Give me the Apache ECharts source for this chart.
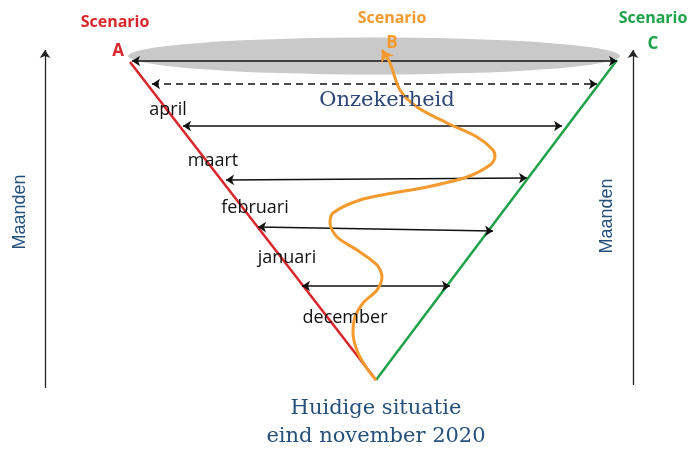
<!DOCTYPE html>
<html>
<head>
<meta charset="utf-8">
<script src="https://cdn.jsdelivr.net/npm/echarts@6/dist/echarts.min.js"></script>
<style>
  html, body { margin: 0; padding: 0; background: #fff; }
  #chart { width: 694px; height: 454px; }
</style>
</head>
<body>
<div id="chart"></div>
<script>
// x = spreiding t.o.v. huidige situatie, y = hoogte in de tijd (0 = nu)
const months = ['december', 'januari', 'februari', 'maart', 'april'];
const monthLabelX = [-31, -89, -121, -163, -208];
const monthLabelY = [62, 122, 172, 219, 270];

// dubbele pijlen per maand: [links, rechts]
const spreadArrows = [
  [[-74, 94], [74, 94]],
  [[-118, 153], [117, 149]],
  [[-150, 200], [151, 202]],
  [[-193, 254], [186, 254]]
];
const dashedArrow = [[-224, 296], [221, 296]];
const topArrow = [[-244, 319], [241, 319]];

const scenarioA = [[0, 0], [-246, 318]];
const scenarioC = [[0, 0], [241, 320]];

// kronkelend pad van scenario B
const scenarioB = [
  [0, 0], [-8, 10], [-18, 27], [-23, 47], [-21, 63], [-13, 77], [1, 90],
  [6, 103], [1, 115], [-19, 130], [-39, 143], [-46, 157], [-43, 167],
  [-16, 180], [17, 187], [51, 193], [91, 203], [114, 215], [119, 223],
  [117, 230], [101, 243], [71, 257], [41, 273], [24, 290], [14, 317], [6, 330]
];

const sideAxes = [
  [[-331, -8], [-331, 330]],
  [[257, -5], [257, 330]]
];

const chart = echarts.init(document.getElementById('chart'));

const arrowStyle = { color: '#111', width: 1.5, opacity: 1 };

const option = {
  animation: false,
  backgroundColor: '#fff',
  grid: { left: 0, right: 0, top: 0, bottom: 0 },
  xAxis: { type: 'value', min: -376, max: 318, show: false },
  yAxis: { type: 'value', min: -74, max: 380, show: false },
  series: [
    // grijze onzekerheidswolk
    {
      type: 'scatter',
      z: 1,
      silent: true,
      symbol: 'circle',
      symbolSize: [492, 37],
      itemStyle: { color: '#c9c9c9', opacity: 1 },
      data: [[-2, 324]]
    },
    // zijassen "Maanden"
    {
      type: 'lines',
      coordinateSystem: 'cartesian2d',
      z: 3,
      symbol: ['none', 'arrow'],
      symbolSize: 8,
      lineStyle: { color: '#222', width: 1.3, opacity: 1 },
      data: sideAxes.map(c => ({ coords: c }))
    },
    // scenario A en C
    {
      type: 'lines',
      coordinateSystem: 'cartesian2d',
      z: 4,
      symbol: 'none',
      lineStyle: { color: '#d8262b', width: 2.5, opacity: 1 },
      data: [{ coords: scenarioA }]
    },
    {
      type: 'lines',
      coordinateSystem: 'cartesian2d',
      z: 4,
      symbol: 'none',
      lineStyle: { color: '#1fa24a', width: 2.5, opacity: 1 },
      data: [{ coords: scenarioC }]
    },
    // maandpijlen
    {
      type: 'lines',
      coordinateSystem: 'cartesian2d',
      z: 5,
      symbol: ['arrow', 'arrow'],
      symbolSize: 8,
      lineStyle: arrowStyle,
      data: spreadArrows.concat([topArrow]).map(c => ({ coords: c }))
    },
    {
      type: 'lines',
      coordinateSystem: 'cartesian2d',
      z: 5,
      symbol: ['arrow', 'arrow'],
      symbolSize: 8,
      lineStyle: { color: '#111', width: 1.5, type: [7, 5], opacity: 1 },
      data: [{ coords: dashedArrow }]
    },
    // scenario B
    {
      type: 'line',
      z: 6,
      smooth: 0.3,
      showSymbol: true,
      lineStyle: { color: '#f39a2e', width: 3 },
      itemStyle: { color: '#f39a2e', opacity: 1 },
      data: scenarioB.map((p, i) => i === scenarioB.length - 1
        ? { value: p, symbol: 'arrow', symbolSize: 11, symbolRotate: 30 }
        : { value: p, symbol: 'none' })
    },
    // maandlabels
    {
      type: 'scatter',
      z: 7,
      symbolSize: 0,
      itemStyle: { opacity: 1 },
      label: {
        show: true,
        position: 'inside',
        formatter: p => p.name,
        color: '#111',
        fontFamily: 'Open Sans',
        fontSize: 18
      },
      data: months.map((m, i) => ({ name: m, value: [monthLabelX[i], monthLabelY[i]] }))
    },
    // overige teksten
    {
      type: 'scatter',
      z: 7,
      symbolSize: 0,
      itemStyle: { opacity: 1 },
      label: { show: true, position: 'inside', formatter: p => p.name },
      data: [
        { name: 'Onzekerheid', value: [11, 279], label: { color: '#2b4778', fontFamily: 'DejaVu Serif', fontSize: 21 } },
        { name: 'Huidige situatie', value: [0, -29], label: { color: '#24507c', fontFamily: 'DejaVu Serif', fontSize: 21 } },
        { name: 'eind november 2020', value: [0, -57], label: { color: '#24507c', fontFamily: 'DejaVu Serif', fontSize: 21 } },
        { name: 'Maanden', value: [-356, 168], label: { color: '#24507c', fontFamily: 'Liberation Sans', fontSize: 18, rotate: 90 } },
        { name: 'Maanden', value: [231, 164], label: { color: '#24507c', fontFamily: 'Liberation Sans', fontSize: 18, rotate: 90 } },
        { name: 'Scenario', value: [-261, 358], label: { color: '#d8262b', fontFamily: 'Open Sans', fontWeight: 'bold', fontSize: 16 } },
        { name: 'A', value: [-258, 329], label: { color: '#d8262b', fontFamily: 'Open Sans', fontWeight: 'bold', fontSize: 17 } },
        { name: 'Scenario', value: [16, 362], label: { color: '#f39a2e', fontFamily: 'Open Sans', fontWeight: 'bold', fontSize: 16 } },
        { name: 'B', value: [16, 337], label: { color: '#f39a2e', fontFamily: 'Open Sans', fontWeight: 'bold', fontSize: 17 } },
        { name: 'Scenario', value: [277, 362], label: { color: '#1fa24a', fontFamily: 'Open Sans', fontWeight: 'bold', fontSize: 16 } },
        { name: 'C', value: [277, 336], label: { color: '#1fa24a', fontFamily: 'Open Sans', fontWeight: 'bold', fontSize: 17 } }
      ]
    }
  ]
};

chart.setOption(option);
</script>
</body>
</html>
